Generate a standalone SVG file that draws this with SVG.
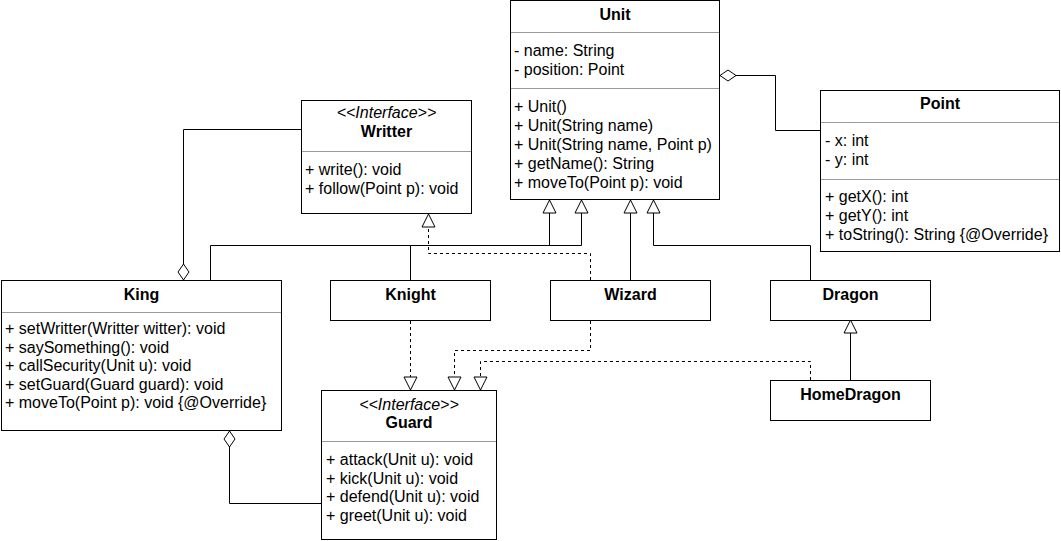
<svg xmlns="http://www.w3.org/2000/svg" width="1061" height="541" viewBox="0 0 1061 541">
<style>
  .box{fill:#fff;stroke:#000;stroke-width:1}
  .div{stroke:#9a9a9a;stroke-width:1}
  text{font-family:"Liberation Sans",Arial,Helvetica,sans-serif;font-size:16px;fill:#000}
  .t{font-weight:bold;text-anchor:middle}
  .st{font-style:italic;text-anchor:middle}
  .ln{fill:none;stroke:#000;stroke-width:1}
  .dash{stroke-dasharray:3 3}
  .gen{marker-end:url(#tri)}
  .agg{marker-start:url(#dia)}
</style>
<defs>
  <marker id="tri" markerUnits="userSpaceOnUse" markerWidth="15" markerHeight="15" refX="13" refY="6.5" orient="auto" viewBox="-1 -1 15 15">
    <path d="M0,0 L13,6.5 L0,13 Z" fill="#fff" stroke="#000" stroke-width="1" stroke-dasharray="none"/>
  </marker>
  <marker id="dia" markerUnits="userSpaceOnUse" markerWidth="18" markerHeight="14" refX="0" refY="6" orient="auto" viewBox="-1 -1 18 14">
    <path d="M0,6 L8,0.5 L16,6 L8,11.5 Z" fill="#fff" stroke="#000" stroke-width="1" stroke-dasharray="none"/>
  </marker>
</defs>
<rect width="1061" height="541" fill="#fff"/>

<g id="connectors">
  <path class="ln gen" d="M210.5 280 V245.5 H549.5 V200"/>
  <path class="ln gen" d="M410.5 280 V245.5 H581.5 V200"/>
  <path class="ln gen" d="M630.5 280 V200"/>
  <path class="ln gen" d="M810.5 280 V245.5 H653.5 V200"/>
  <path class="ln dash gen" d="M590.5 280 V253.5 H428.5 V214"/>
  <path class="ln dash gen" d="M410.5 321 V390"/>
  <path class="ln dash gen" d="M590.5 321 V350.5 H454.5 V390"/>
  <path class="ln dash gen" d="M810.5 380 V361.5 H480.5 V390"/>
  <path class="ln gen" d="M850.5 380 V320"/>
  <path class="ln agg" d="M183.5 280 V129.5 H301"/>
  <path class="ln agg" d="M229.5 431 V503.5 H322"/>
  <path class="ln agg" d="M720 75.5 H775.5 V130.5 H820"/>
</g>

<g id="Unit">
  <rect class="box" x="510.5" y="0.5" width="209" height="199"/>
  <text class="t" x="615" y="20">Unit</text>
  <line class="div" x1="511" y1="32.5" x2="719" y2="32.5"/>
  <text x="514" y="56">- name: String</text>
  <text x="514" y="75">- position: Point</text>
  <line class="div" x1="511" y1="88.5" x2="719" y2="88.5"/>
  <text x="514" y="112">+ Unit()</text>
  <text x="514" y="131">+ Unit(String name)</text>
  <text x="514" y="150">+ Unit(String name, Point p)</text>
  <text x="514" y="169">+ getName(): String</text>
  <text x="514" y="188">+ moveTo(Point p): void</text>
</g>

<g id="Writter">
  <rect class="box" x="301.5" y="100.5" width="170" height="113"/>
  <text class="st" x="386.5" y="118">&lt;&lt;Interface&gt;&gt;</text>
  <text class="t" x="386.5" y="137">Writter</text>
  <line class="div" x1="302" y1="151.5" x2="471" y2="151.5"/>
  <text x="305" y="175">+ write(): void</text>
  <text x="305" y="194">+ follow(Point p): void</text>
</g>

<g id="Point">
  <rect class="box" x="820.5" y="90.5" width="239" height="161"/>
  <text class="t" x="940" y="109">Point</text>
  <line class="div" x1="821" y1="122.5" x2="1059" y2="122.5"/>
  <text x="825" y="146">- x: int</text>
  <text x="825" y="165">- y: int</text>
  <line class="div" x1="821" y1="179.5" x2="1059" y2="179.5"/>
  <text x="825" y="202">+ getX(): int</text>
  <text x="825" y="221">+ getY(): int</text>
  <text x="825" y="240">+ toString(): String {@Override}</text>
</g>

<g id="King">
  <rect class="box" x="1.5" y="280.5" width="280" height="150"/>
  <text class="t" x="141.5" y="300">King</text>
  <line class="div" x1="2" y1="312.5" x2="281" y2="312.5"/>
  <text x="5" y="334">+ setWritter(Writter witter): void</text>
  <text x="5" y="352.5">+ saySomething(): void</text>
  <text x="5" y="371">+ callSecurity(Unit u): void</text>
  <text x="5" y="389.5">+ setGuard(Guard guard): void</text>
  <text x="5" y="408">+ moveTo(Point p): void {@Override}</text>
</g>

<g id="Knight">
  <rect class="box" x="330.5" y="280.5" width="160" height="40"/>
  <text class="t" x="410.5" y="300">Knight</text>
</g>

<g id="Wizard">
  <rect class="box" x="550.5" y="280.5" width="160" height="40"/>
  <text class="t" x="630.5" y="300">Wizard</text>
</g>

<g id="Dragon">
  <rect class="box" x="770.5" y="280.5" width="160" height="40"/>
  <text class="t" x="850.5" y="300">Dragon</text>
</g>

<g id="HomeDragon">
  <rect class="box" x="770.5" y="380.5" width="160" height="40"/>
  <text class="t" x="850.5" y="400">HomeDragon</text>
</g>

<g id="Guard">
  <rect class="box" x="321.5" y="390.5" width="175" height="149"/>
  <text class="st" x="409" y="410">&lt;&lt;Interface&gt;&gt;</text>
  <text class="t" x="409" y="428">Guard</text>
  <line class="div" x1="322" y1="441.5" x2="496" y2="441.5"/>
  <text x="326" y="465">+ attack(Unit u): void</text>
  <text x="326" y="483.5">+ kick(Unit u): void</text>
  <text x="326" y="502">+ defend(Unit u): void</text>
  <text x="326" y="520.5">+ greet(Unit u): void</text>
</g>
</svg>
